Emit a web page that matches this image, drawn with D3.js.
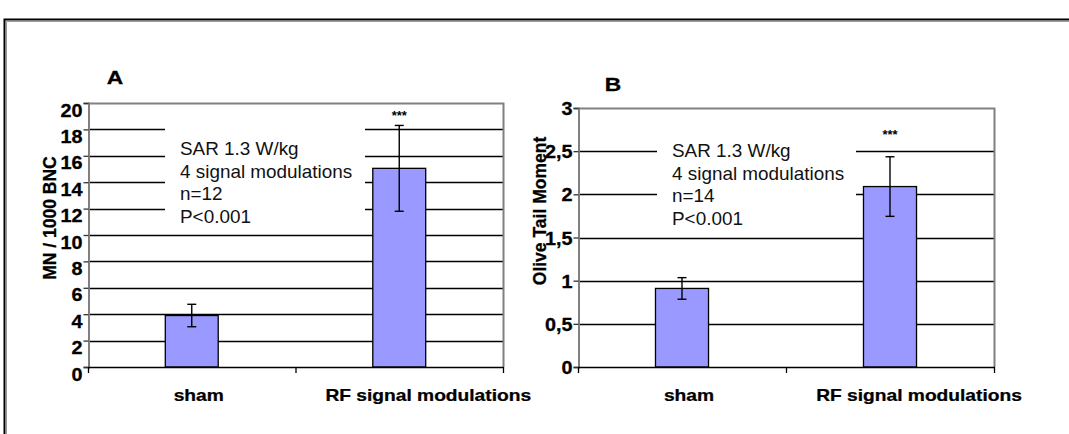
<!DOCTYPE html>
<html>
<head>
<meta charset="utf-8">
<script src="https://cdn.jsdelivr.net/npm/d3@7"></script>
<style>
  html, body { margin: 0; padding: 0; background: #fff; }
  svg { display: block; font-family: Arial, "Liberation Sans", Helvetica, sans-serif; }
</style>
</head>
<body>
<svg id="chart" width="1069" height="434"></svg>
<script>
// Groups shared by both panels
const categories = ["sham", "RF signal modulations"];

// Panel A: micronuclei per 1000 binucleated cells
const mnMeans = [3.9, 15.05];
const mnErrors = [0.85, 3.25];
const mnTicks = [0, 2, 4, 6, 8, 10, 12, 14, 16, 18, 20];
const mnNotes = ["SAR 1.3 W/kg", "4 signal modulations", "n=12", "P<0.001"];

// Panel B: comet assay Olive tail moment
const otmMeans = [0.91, 2.09];
const otmErrors = [0.125, 0.345];
const otmTicks = [0, 0.5, 1, 1.5, 2, 2.5, 3];
const otmNotes = ["SAR 1.3 W/kg", "4 signal modulations", "n=14", "P<0.001"];

const significance = ["", "***"];

const svg = d3.select("#chart");

// outer frame
svg.append("path")
  .attr("d", "M4.5,440 V19.5 H1075")
  .attr("fill", "none").attr("stroke", "#000").attr("stroke-width", 2);
svg.append("path")
  .attr("d", "M6.5,440 V21.5 H1075")
  .attr("fill", "none").attr("stroke", "#999").attr("stroke-width", 1);

const fmtComma = d => String(d).replace(".", ",");

function panel(opts) {
  const { left, right, top, bottom, means, errors, ticks, fmt, notes,
          title, letter, letterPos, titlePos, labelDy, box } = opts;

  const x = d3.scaleBand().domain(categories).range([left, right]);
  const y = d3.scaleLinear().domain([ticks[0], ticks[ticks.length - 1]]).range([bottom, top]);
  const g = svg.append("g");

  // horizontal gridlines
  g.selectAll("line.grid").data(ticks.slice(1, -1)).join("line")
    .attr("class", "grid")
    .attr("x1", left).attr("x2", right)
    .attr("y1", d => Math.round(y(d)) + 0.5).attr("y2", d => Math.round(y(d)) + 0.5)
    .attr("stroke", "#000").attr("stroke-width", 1.6);

  // annotation box sits over the gridlines
  g.append("rect")
    .attr("x", left + box.dx).attr("y", box.y)
    .attr("width", box.w).attr("height", box.h)
    .attr("fill", "#fff");
  g.selectAll("text.note").data(notes).join("text")
    .attr("class", "note")
    .attr("transform", (d, i) => `translate(${left + box.dx + 15},${box.textY + i * 22.5}) scale(1.08,1)`)
    .attr("font-size", 17.5)
    .attr("fill", "#111")
    .text(d => d);

  // plot area border (top and right) in grey
  g.append("path")
    .attr("d", `M${left},${Math.round(y(ticks[ticks.length - 1])) + 0.5} H${right + 0.5} V${bottom}`)
    .attr("fill", "none").attr("stroke", "#808080").attr("stroke-width", 2);

  // bars
  const bw = x.bandwidth() * 0.255;
  g.selectAll("rect.bar").data(categories).join("rect")
    .attr("class", "bar")
    .attr("x", d => x(d) + x.bandwidth() / 2 - bw / 2)
    .attr("y", (d, i) => y(means[i]))
    .attr("width", bw)
    .attr("height", (d, i) => y(0) - y(means[i]))
    .attr("fill", "#9999ff")
    .attr("stroke", "#000").attr("stroke-width", 1.3);

  // error bars
  const eb = g.selectAll("g.err").data(categories).join("g").attr("class", "err");
  const cx = d => x(d) + x.bandwidth() / 2;
  eb.append("line")
    .attr("x1", cx).attr("x2", cx)
    .attr("y1", (d, i) => y(means[i] + errors[i]))
    .attr("y2", (d, i) => y(means[i] - errors[i]))
    .attr("stroke", "#000").attr("stroke-width", 1.4);
  [1, -1].forEach(s => {
    eb.append("line")
      .attr("x1", d => cx(d) - 4.5).attr("x2", d => cx(d) + 4.5)
      .attr("y1", (d, i) => y(means[i] + s * errors[i]))
      .attr("y2", (d, i) => y(means[i] + s * errors[i]))
      .attr("stroke", "#000").attr("stroke-width", 1.4);
  });

  // significance stars
  g.selectAll("text.sig").data(categories).join("text")
    .attr("class", "sig")
    .attr("x", cx)
    .attr("y", (d, i) => y(means[i]) - 48)
    .attr("text-anchor", "middle")
    .attr("font-size", 13).attr("font-weight", "bold")
    .text((d, i) => significance[i]);

  // y axis
  const yAxis = d3.axisLeft(y).tickValues(ticks).tickSize(5).tickFormat(fmt);
  const ya = g.append("g").attr("transform", `translate(${left + 0.5},0)`).call(yAxis);
  ya.select(".domain").attr("stroke", "#808080").attr("stroke-width", 2);
  ya.selectAll(".tick line").attr("stroke", "#333").attr("stroke-width", 1.3);
  ya.selectAll(".tick text")
    .attr("x", null).attr("dy", null)
    .attr("transform", `translate(-6,${labelDy}) scale(1.1,1)`)
    .attr("text-anchor", "end")
    .attr("font-size", 18).attr("font-weight", "bold")
    .attr("font-family", "Arial, 'Liberation Sans', sans-serif")
    .attr("stroke", "#000").attr("stroke-width", 0.3)
    .attr("fill", "#000");

  // category axis line with ticks at the group boundaries
  g.append("line")
    .attr("x1", left).attr("x2", right + 1)
    .attr("y1", Math.round(y(0)) + 0.5).attr("y2", Math.round(y(0)) + 0.5)
    .attr("stroke", "#000").attr("stroke-width", 1.6);
  const bounds = categories.map(c => x(c)).concat([x(categories[categories.length - 1]) + x.bandwidth()]);
  g.selectAll("line.ctick").data(bounds).join("line")
    .attr("class", "ctick")
    .attr("x1", d => d + 0.5).attr("x2", d => d + 0.5)
    .attr("y1", y(0)).attr("y2", y(0) + 6)
    .attr("stroke", "#000").attr("stroke-width", 1.3);

  // category labels
  const labelShift = [7, 29];
  g.selectAll("text.cat").data(categories).join("text")
    .attr("class", "cat")
    .attr("transform", (d, i) => `translate(${cx(d) + labelShift[i]},401) scale(1.2,1)`)
    .attr("text-anchor", "middle")
    .attr("font-size", 16).attr("font-weight", "bold")
    .attr("stroke", "#000").attr("stroke-width", 0.25)
    .text(d => d);

  // axis title
  g.append("text")
    .attr("transform", `translate(${titlePos[0]},${titlePos[1]}) rotate(-90)`)
    .attr("text-anchor", "middle")
    .attr("font-size", 17.5).attr("font-weight", "bold")
    .attr("stroke", "#000").attr("stroke-width", 0.3)
    .text(title);

  // panel letter
  g.append("text")
    .attr("transform", `translate(${letterPos[0]},${letterPos[1]}) scale(1.2,1)`)
    .attr("text-anchor", "middle")
    .attr("font-size", 19).attr("font-weight", "bold")
    .attr("stroke", "#000").attr("stroke-width", 0.3)
    .text(letter);
}

panel({
  left: 88, right: 503, top: 103, bottom: 367,
  means: mnMeans, errors: mnErrors, ticks: mnTicks, fmt: d => d,
  notes: mnNotes, title: "MN / 1000 BNC", letter: "A",
  letterPos: [115, 84], titlePos: [56, 218], labelDy: 13,
  box: { dx: 77, y: 118, w: 200, h: 110, textY: 155 }
});

panel({
  left: 578, right: 994, top: 108, bottom: 367,
  means: otmMeans, errors: otmErrors, ticks: otmTicks, fmt: fmtComma,
  notes: otmNotes, title: "Olive Tail Moment", letter: "B",
  letterPos: [613, 91], titlePos: [546, 211], labelDy: 6.5,
  box: { dx: 79, y: 128, w: 199, h: 104, textY: 157 }
});
</script>
</body>
</html>
